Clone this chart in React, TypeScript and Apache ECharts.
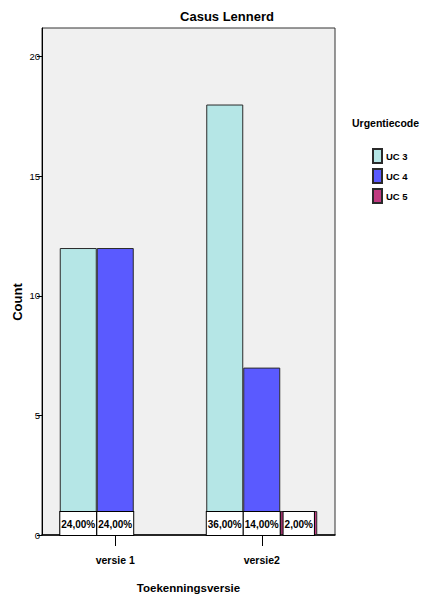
import React, { useEffect, useRef } from "react";
import * as echarts from "echarts";

const categories = ["versie 1", "versie2"];
const seriesNames = ["UC 3", "UC 4", "UC 5"];
const uc3Counts = [12, 18];
const uc4Counts = [12, 7];
const uc5Counts: (number | null)[] = [null, 1];
const uc3Pct = [24, 36];
const uc4Pct = [24, 14];
const uc5Pct: (number | null)[] = [null, 2];
const colors = ["#b5e6e6", "#5a5aff", "#c03a80"];
const yTicks = [0, 5, 10, 15, 20];

const FONT = "'Liberation Sans', Arial, sans-serif";

const fmtPct = (v: number | null) => (v == null ? "" : v.toFixed(2).replace(".", ",") + "%");

export default function App() {
  const ref = useRef<HTMLDivElement>(null);
  useEffect(() => {
    document.body.style.margin = "0";
    const chart = echarts.init(ref.current!, null, { renderer: "svg" });
    const counts = [uc3Counts, uc4Counts, uc5Counts];
    const pcts = [uc3Pct, uc4Pct, uc5Pct];
    chart.setOption({
      animation: false,
      backgroundColor: "#ffffff",
      title: {
        text: "Casus Lennerd",
        left: 222,
        textAlign: "center",
        top: 5,
        textStyle: { fontFamily: FONT, fontWeight: "bold", fontSize: 13, color: "#000" },
      },
      grid: {
        left: 42,
        top: 28,
        right: 88,
        bottom: 68,
        show: true,
        backgroundColor: "#f0f0f0",
        borderColor: "#333",
        borderWidth: 1,
      },
      legend: {
        orient: "vertical",
        left: 372,
        top: 148,
        padding: 0,
        itemWidth: 9,
        itemHeight: 14,
        itemGap: 4,
        icon: "rect",
        data: seriesNames,
        textStyle: {
          fontFamily: FONT,
          fontWeight: "bold",
          fontSize: 9.5,
          lineHeight: 14,
          color: "#000",
          padding: [0, 0, 0, -1],
        },
      },
      graphic: [
        {
          type: "text",
          left: 352,
          top: 117,
          style: { text: "Urgentiecode", font: `bold 10.5px ${FONT}`, fill: "#000" },
        },
        {
          type: "text",
          x: 17,
          y: 302,
          rotation: Math.PI / 2,
          style: {
            text: "Count",
            font: `bold 13px ${FONT}`,
            fill: "#000",
            textAlign: "center",
            textVerticalAlign: "middle",
          },
        },
      ],
      xAxis: {
        type: "category",
        data: categories,
        name: "Toekenningsversie",
        nameLocation: "middle",
        nameGap: 47,
        nameTextStyle: { fontFamily: FONT, fontWeight: "bold", fontSize: 11.5, color: "#000" },
        axisLine: { show: true, lineStyle: { color: "#000", width: 1.5 } },
        axisTick: { show: true, alignWithLabel: true, length: 11, lineStyle: { color: "#000" } },
        axisLabel: { fontFamily: FONT, fontWeight: "bold", fontSize: 10.5, color: "#000", margin: 19 },
      },
      yAxis: {
        type: "value",
        min: 0,
        max: 21.2,
        interval: 5,
        splitLine: { show: false },
        axisLine: { show: true, lineStyle: { color: "#000", width: 1 } },
        axisTick: { show: true, length: 5, lineStyle: { color: "#000" } },
        axisLabel: {
          fontFamily: FONT,
          fontSize: 9.5,
          color: "#000",
          margin: 2,
          showMaxLabel: false,
          formatter: (v: number) => (yTicks.includes(v) ? String(v) : ""),
        },
      },
      series: seriesNames.map((name, i) => ({
        name,
        type: "bar",
        data: counts[i],
        barWidth: 37,
        barGap: "0%",
        itemStyle: { color: colors[i], borderColor: "#2a2a2a", borderWidth: 1 },
        label: {
          show: true,
          position: "insideBottom",
          distance: 0,
          formatter: (p: any) => fmtPct(pcts[i][p.dataIndex]),
          backgroundColor: "#ffffff",
          borderColor: "#000",
          borderWidth: 1,
          padding: [5, 1, 4, 1],
          fontFamily: FONT,
          fontWeight: "bold",
          fontSize: 10,
          lineHeight: 14,
          color: "#000",
        },
      })),
    });
    return () => chart.dispose();
  }, []);
  return <div ref={ref} style={{ width: 423, height: 603 }} />;
}
